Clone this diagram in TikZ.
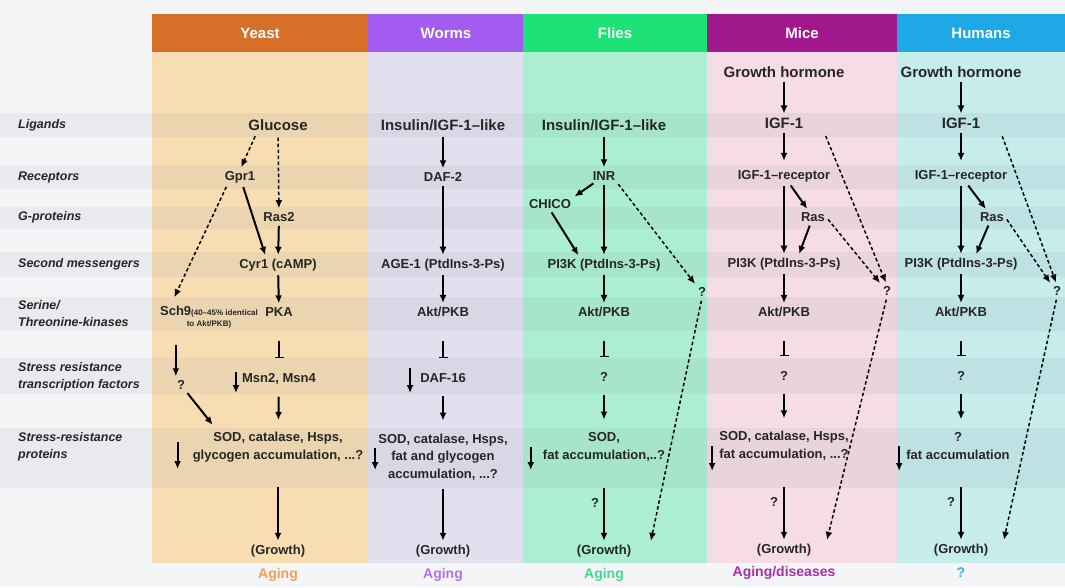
\documentclass[tikz,border=0pt]{standalone}
\usepackage{fontspec}
\setmainfont{Liberation Sans}
\usetikzlibrary{positioning, arrows, arrows.meta}

\definecolor{yeasthd}{HTML}{D67028}
\definecolor{yeastbg}{HTML}{F8DDB2}
\definecolor{wormshd}{HTML}{A45CF0}
\definecolor{wormsbg}{HTML}{E2E0EE}
\definecolor{flieshd}{HTML}{1EE178}
\definecolor{fliesbg}{HTML}{ACEED2}
\definecolor{micehd}{HTML}{A0188C}
\definecolor{micebg}{HTML}{F6DCE6}
\definecolor{humanshd}{HTML}{1EA8E6}
\definecolor{humansbg}{HTML}{C6ECEC}
\definecolor{margin}{HTML}{F4F5F7}
\definecolor{stripe}{HTML}{8090A0}
\definecolor{agey}{HTML}{F2A052}
\definecolor{agew}{HTML}{B46EF2}
\definecolor{agef}{HTML}{3EDC8E}
\definecolor{agem}{HTML}{A82EA8}
\definecolor{ageh}{HTML}{3AAEE2}
\newcommand{\notefont}{\fontsize{8}{9}\selectfont}

\begin{document}
\begin{tikzpicture}[x=1pt, y=-1pt,
  hd/.style={font=\fontsize{15}{17}\selectfont\bfseries, text=white},
  rowlbl/.style={anchor=west, inner sep=0pt, align=left, text=black!85, font=\fontsize{12.5}{17}\selectfont\bfseries\itshape},
  lig/.style={inner sep=1pt, text=black!85, font=\fontsize{15}{18}\selectfont\bfseries},
  nd/.style={inner sep=1pt, align=center, text=black!85, font=\fontsize{13}{17.5}\selectfont\bfseries},
  outc/.style={inner sep=1pt, font=\fontsize{14}{16}\selectfont\bfseries},
  act/.style={-{Latex[length=8pt,width=7pt]}, line width=2pt, shorten <=3pt, shorten >=3pt},
  dsh/.style={-{Latex[length=8pt,width=7pt]}, line width=1.5pt, dash pattern=on 3.5pt off 2.5pt, shorten <=3pt, shorten >=3pt},
  inh/.style={-{Bar[width=9pt]}, line width=1.3pt, shorten <=23pt, shorten >=14pt},
  decr/.style={-{Latex[length=8pt,width=7pt]}, line width=2pt}]
  \useasboundingbox (0,0) rectangle (1065,587);
  \fill[margin] (0,0) rectangle (1065,587);
  \fill[yeastbg] (152,52) rectangle (368,563);
  \fill[wormsbg] (368,52) rectangle (523,563);
  \fill[fliesbg] (523,52) rectangle (707,563);
  \fill[micebg] (707,52) rectangle (897,563);
  \fill[humansbg] (897,52) rectangle (1065,563);
  \foreach \ya/\yb in {113/137, 165/189, 207/229, 252/277, 297/331, 358/394, 428/488}
    \fill[stripe, opacity=0.1] (0,\ya) rectangle (1065,\yb);
  \fill[yeasthd] (152,14) rectangle (368,52);
  \fill[wormshd] (368,14) rectangle (523,52);
  \fill[flieshd] (523,14) rectangle (707,52);
  \fill[micehd] (707,14) rectangle (897,52);
  \fill[humanshd] (897,14) rectangle (1065,52);

  \draw
    (260,33) node[hd] (hdyeast){Yeast}
    (446,33) node[hd] (hdworms){Worms}
    (615,33) node[hd] (hdflies){Flies}
    (802,33) node[hd] (hdmice){Mice}
    (981,33) node[hd] (hdhumans){Humans};
  \draw
    (18,125) node[rowlbl] (rlig){Ligands}
    (18,177) node[rowlbl] (rrec){Receptors}
    (18,217) node[rowlbl] (rgp){G-proteins}
    (18,264) node[rowlbl] (rsec){Second messengers}
    (18,314) node[rowlbl] (rser){Serine/\\Threonine-kinases}
    (18,377) node[rowlbl] (rtf){Stress resistance\\transcription factors}
    (18,447) node[rowlbl] (rprot){Stress-resistance\\proteins};

  \draw
    (278,125) node[lig] (glucose){Glucose}
    (240,177) node[nd] (gpr1){Gpr1}
    (279,217) node[nd] (ras2){Ras2}
    (278,265) node[nd] (cyr1){Cyr1 (cAMP)}
    (209,317) node[nd] (sch9){Sch9{\notefont(40--45\% identical}\\[-6pt]{\notefont to Akt/PKB)}}
    (279,312) node[nd] (pka){PKA}
    (181,385) node[nd] (yq){?}
    (279,379) node[nd] (msn){Msn2, Msn4}
    (278,447) node[nd] (ysod){SOD, catalase, Hsps,\\glycogen accumulation, ...?}
    (278,551) node[nd] (ygro){(Growth)}
    (278,575) node[outc, text=agey] (yout){Aging};
  \draw
    (443,125) node[lig] (wlig){Insulin/IGF-1--like}
    (443,177) node[nd] (daf2){DAF-2}
    (443,265) node[nd] (age1){AGE-1 (PtdIns-3-Ps)}
    (443,312) node[nd] (wakt){Akt/PKB}
    (443,378) node[nd] (daf16){DAF-16}
    (443,457) node[nd] (wsod){SOD, catalase, Hsps,\\fat and glycogen\\accumulation, ...?}
    (443,551) node[nd] (wgro){(Growth)}
    (443,575) node[outc, text=agew] (wout){Aging};
  \draw
    (604,125) node[lig] (flig){Insulin/IGF-1--like}
    (604,176) node[nd] (inr){INR}
    (550,204) node[nd] (chico){CHICO}
    (604,265) node[nd] (fpi3k){PI3K (PtdIns-3-Ps)}
    (702,292) node[nd] (fq1){?}
    (604,312) node[nd] (fakt){Akt/PKB}
    (604,377) node[nd] (fq){?}
    (604,447) node[nd] (fsod){SOD,\\fat accumulation,..?}
    (604,551) node[nd] (fgro){(Growth)}
    (604,575) node[outc, text=agef] (fout){Aging};
  \draw
    (784,72) node[lig] (mgh){Growth hormone}
    (784,123) node[lig] (mlig){IGF-1}
    (784,176) node[nd] (mrec){IGF-1--receptor}
    (813,217) node[nd] (mras){Ras}
    (784,264) node[nd] (mpi3k){PI3K (PtdIns-3-Ps)}
    (887,291) node[nd] (mq1){?}
    (784,312) node[nd] (makt){Akt/PKB}
    (784,376) node[nd] (mq){?}
    (784,446) node[nd] (msod){SOD, catalase, Hsps,\\fat accumulation, ...?}
    (784,550) node[nd] (mgro){(Growth)}
    (784,573) node[outc, text=agem] (mout){Aging/diseases};
  \draw
    (961,72) node[lig] (hgh){Growth hormone}
    (961,123) node[lig] (hlig){IGF-1}
    (961,176) node[nd] (hrec){IGF-1--receptor}
    (992,217) node[nd] (hras){Ras}
    (961,264) node[nd] (hpi3k){PI3K (PtdIns-3-Ps)}
    (1057,291) node[nd] (hq1){?}
    (961,312) node[nd] (hakt){Akt/PKB}
    (961,376) node[nd] (hq){?}
    (958,446) node[nd] (hsod){?\\fat accumulation}
    (961,550) node[nd] (hgro){(Growth)}
    (961,573) node[outc, text=ageh] (hout){?};

  \begin{scope}[act]
    \draw (gpr1) to ([xshift=28pt]cyr1.north west);
    \draw (ras2) to (cyr1);
    \draw (cyr1) to (pka);
    \draw[shorten <=16pt] (sch9.south -| yq.north west) to (yq.north west);
    \draw[shorten >=8pt] (yq) to ([xshift=26pt]ysod.north west);
    \draw[shorten <=11pt, shorten >=11pt] (msn) to (ysod);
    \draw[shorten <=24pt] (ysod) to (ygro);
    \draw[shorten <=5pt] (wlig) to (daf2);
    \draw (daf2) to (age1);
    \draw (age1) to (wakt);
    \draw[shorten <=12pt, shorten >=12pt] (daf16) to (wsod);
    \draw[shorten <=8pt] (wsod) to (wgro);
    \draw[shorten <=5pt] (flig) to (inr);
    \draw (inr) to (chico.north east);
    \draw (chico.south) to ([xshift=-24pt]fpi3k.north);
    \draw (inr) to (fpi3k);
    \draw (fpi3k) to (fakt);
    \draw[shorten <=12pt, shorten >=12pt] (fq) to (fsod);
    \draw[shorten <=25pt] (fsod) to node[nd, left, xshift=-3pt] (fq2){?} (fgro);
    \draw (mgh) to (mlig);
    \draw[shorten >=8pt] (mlig) to (mrec);
    \draw (mrec) to (mpi3k);
    \draw (mrec) to (mras);
    \draw (mras) to ([xshift=14pt]mpi3k.north);
    \draw (mpi3k) to (makt);
    \draw[shorten <=12pt, shorten >=12pt] (mq) to (msod);
    \draw[shorten <=25pt] (msod) to node[nd, left, xshift=-4pt] (mq2){?} (mgro);
    \draw (hgh) to (hlig);
    \draw[shorten >=8pt] (hlig) to (hrec);
    \draw (hrec) to (hpi3k);
    \draw (hrec) to (hras);
    \draw (hras) to ([xshift=14pt]hpi3k.north);
    \draw (hpi3k) to (hakt);
    \draw[shorten <=12pt, shorten >=12pt] (hq) to (hsod.north -| hq);
    \draw[shorten <=26pt] (hsod.south -| hgro) to node[nd, left, xshift=-4pt] (hq2){?} (hgro);
  \end{scope}
  \begin{scope}[dsh]
    \draw[shorten <=5pt] ([xshift=10pt]glucose.south west) to (gpr1.north);
    \draw[shorten <=6pt] (glucose) to (ras2);
    \draw[shorten >=8pt] ([xshift=4pt]gpr1.south west) to ([xshift=12pt]sch9.north west);
    \draw (inr.south east) to (fq1.north west);
    \draw (fq1.south) to ([xshift=18pt]fgro.north east);
    \draw[shorten <=14pt] ([xshift=16pt]mlig.east) to (mq1.north);
    \draw (mras.east) to (mq1.north west);
    \draw (mq1.south) to ([xshift=14pt]mgro.north east);
    \draw[shorten <=14pt] ([xshift=16pt]hlig.east) to (hq1.north);
    \draw (hras.east) to (hq1.north west);
    \draw (hq1.south) to ([xshift=14pt]hgro.north east);
  \end{scope}
  \begin{scope}[inh]
    \draw (pka) to (msn);
    \draw (wakt) to (daf16);
    \draw (fakt) to (fq);
    \draw (makt) to (mq);
    \draw (hakt) to (hq);
  \end{scope}
  \begin{scope}[decr]
    \draw ([xshift=-5pt,yshift=7pt]msn.west) -- ++(0,21);
    \draw ([xshift=-14pt,yshift=5pt]ysod.west) -- ++(0,27);
    \draw ([xshift=-9pt,yshift=10pt]daf16.west) -- ++(0,25);
    \draw ([xshift=-2pt,yshift=9pt]wsod.west) -- ++(0,22);
    \draw ([xshift=-11pt]fsod.west) -- ++(0,23);
    \draw ([xshift=-6pt]msod.west) -- ++(0,25);
    \draw ([xshift=-6pt]hsod.west) -- ++(0,25);
  \end{scope}
\end{tikzpicture}
\end{document}
